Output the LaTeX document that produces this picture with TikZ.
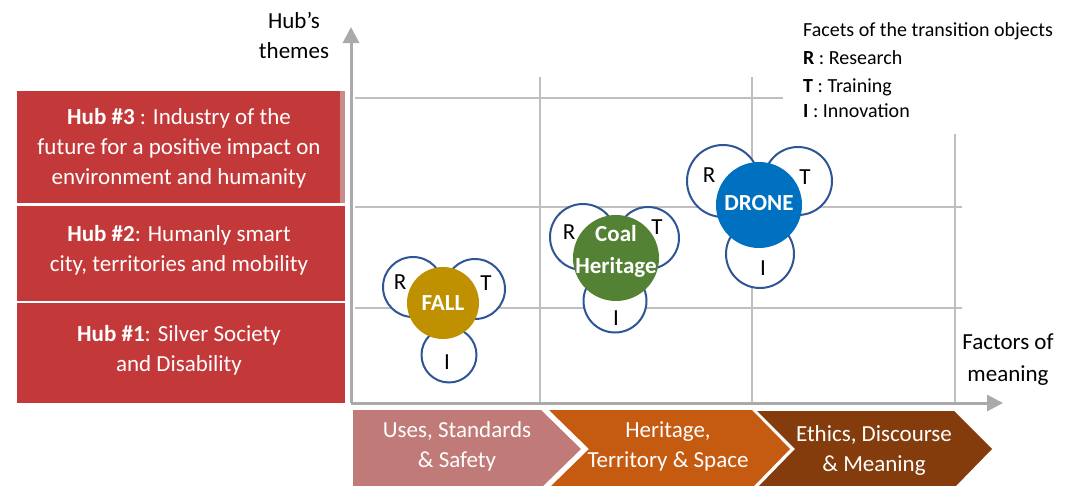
\documentclass[tikz,border=0pt]{standalone}
\usepackage{fontspec}
\setmainfont{Carlito}
\usetikzlibrary{arrows.meta}
\definecolor{hubred}{RGB}{195,57,57}
\definecolor{hubpink}{RGB}{201,140,140}
\definecolor{gridgray}{RGB}{191,191,191}
\definecolor{axisgray}{RGB}{170,170,170}
\definecolor{facetblue}{RGB}{47,85,151}
\definecolor{fallgold}{RGB}{191,144,0}
\definecolor{coalgreen}{RGB}{84,130,53}
\definecolor{droneblue}{RGB}{0,112,192}
\definecolor{chevA}{RGB}{192,123,121}
\definecolor{chevB}{RGB}{197,90,17}
\definecolor{chevC}{RGB}{132,60,12}
\newcommand{\myfont}{\fontsize{23}{30}\selectfont}
\newcommand{\legfont}{\fontsize{20}{24}\selectfont}
\tikzset{
  gridline/.style={draw=gridgray, line width=2.5pt},
  axisline/.style={draw=axisgray, line width=3pt, -{Triangle[width=16pt,length=16pt]}},
  hubbox/.style={fill=hubred, draw=none},
  hubtext/.style={text=white, font=\myfont, align=center, inner sep=0pt},
  facet/.style={circle, draw=facetblue, line width=2pt, fill=white, inner sep=0pt},
  core/.style={circle, draw=none, inner sep=0pt, text=white, font=\myfont\bfseries, align=center, minimum size=86pt},
  letter/.style={font=\myfont, inner sep=0pt, text=black},
  chevtext/.style={text=white, font=\myfont, align=center, inner sep=0pt},
  legtext/.style={font=\legfont, anchor=base west, inner sep=0pt},
  plaintext/.style={font=\myfont, align=center, inner sep=0pt},
}
\begin{document}
\begin{tikzpicture}[x=1pt,y=-1pt]
\useasboundingbox (0,0) rectangle (1073,485);
\clip (0,0) rectangle (1073,485);
\fill[white] (0,0) rectangle (1073,485);

% grid
\coordinate (h1a) at (355,98);  \coordinate (h1b) at (783,98);
\coordinate (h2a) at (355,207); \coordinate (h2b) at (962,207);
\coordinate (h3a) at (355,308); \coordinate (h3b) at (962,308);
\coordinate (v1a) at (540,77);  \coordinate (v1b) at (540,403);
\coordinate (v2a) at (752,77);  \coordinate (v2b) at (752,403);
\coordinate (v3a) at (955,134); \coordinate (v3b) at (955,403);
\draw[gridline] (h1a) -- (h1b);
\draw[gridline] (h2a) -- (h2b);
\draw[gridline] (h3a) -- (h3b);
\draw[gridline] (v1a) -- (v1b);
\draw[gridline] (v2a) -- (v2b);
\draw[gridline] (v3a) -- (v3b);

% axes
\coordinate (orig) at (351,403);
\coordinate (ytip) at (351,27);
\coordinate (xtip) at (1003,403);
\draw[axisline] (orig) -- (ytip);
\draw[axisline] (orig) -- (xtip);

% hub boxes
\fill[hubred] (17,91) rectangle (340,203);
\fill[hubpink] (340,91) rectangle (345,203);
\fill[hubred] (17,206) rectangle (345,301);
\fill[hubred] (17,303) rectangle (345,403);
\node[hubtext] (hub3) at (179,148) {\textbf{Hub \#3} : Industry of the\\future for a positive impact on\\environment and humanity};
\node[hubtext] (hub2) at (179,250) {\textbf{Hub \#2}: Humanly smart\\city, territories and mobility};
\node[hubtext] (hub1) at (179,350) {\textbf{Hub \#1}: Silver Society\\and Disability};

% axis labels
\node[plaintext] (ylab) at (294,35) {Hub’s\\themes};
\node[plaintext, font=\fontsize{23}{32}\selectfont] (xlab) at (1008,360) {Factors of\\meaning};

% legend
\node[legtext] (leg0) at (803,36) {Facets of the transition objects};
\node[legtext] (leg1) at (803,64) {\textbf{R} : Research};
\node[legtext] (leg2) at (803,92) {\textbf{T} : Training};
\node[legtext] (leg3) at (803,117) {\textbf{I} : Innovation};

% FALL
\node[facet, minimum size=60pt] (fallR) at (413,287) {};
\node[facet, minimum size=60pt] (fallT) at (475,289) {};
\node[facet, minimum size=55pt] (fallI) at (449,355) {};
\node[core, fill=fallgold, minimum size=72pt] (fall) at (443,303) {FALL};
\node[letter] (fallRl) at (400,282) {R};
\node[letter] (fallTl) at (486,283) {T};
\node[letter] (fallIl) at (447,362) {I};

% Coal Heritage
\node[facet, minimum size=66pt] (coalR) at (583,237) {};
\node[facet, minimum size=62pt] (coalT) at (648,238) {};
\node[facet, minimum size=63pt] (coalI) at (615,301) {};
\node[core, fill=coalgreen] (coal) at (616,258) {};
\node[text=white, font=\myfont\bfseries, inner sep=0pt] (coalA) at (616,234) {Coal};
\node[text=white, font=\myfont\bfseries, inner sep=0pt] (coalB) at (616,267) {Heritage};
\node[letter] (coalRl) at (569,232) {R};
\node[letter] (coalTl) at (657,227) {T};
\node[letter] (coalIl) at (616,318) {I};

% DRONE
\node[facet, minimum size=72pt] (droneR) at (723,181) {};
\node[facet, minimum size=68pt] (droneT) at (798,181) {};
\node[facet, minimum size=68pt] (droneI) at (760,254) {};
\node[core, fill=droneblue] (drone) at (759,205) {};
\node[text=white, font=\myfont\bfseries, inner sep=0pt] (droneA) at (759,203) {DRONE};
\node[letter] (droneRl) at (709,175) {R};
\node[letter] (droneTl) at (805,177) {T};
\node[letter] (droneIl) at (763,268) {I};

% chevrons
\fill[chevA] (353,410) -- (541,410) -- (581,449) -- (541,488) -- (353,488) -- cycle;
\fill[chevB] (549,410) -- (752,410) -- (790,449) -- (752,488) -- (549,488) -- (589,449) -- cycle;
\fill[chevC] (757,411) -- (954,411) -- (992,449) -- (954,488) -- (757,488) -- (795,449) -- cycle;
\node[chevtext] (chev1) at (457,446) {Uses, Standards\\\& Safety};
\node[chevtext] (chev2) at (668,446) {Heritage,\\Territory \& Space};
\node[chevtext] (chev3) at (874,450) {Ethics, Discourse\\\& Meaning};
\end{tikzpicture}
\end{document}
